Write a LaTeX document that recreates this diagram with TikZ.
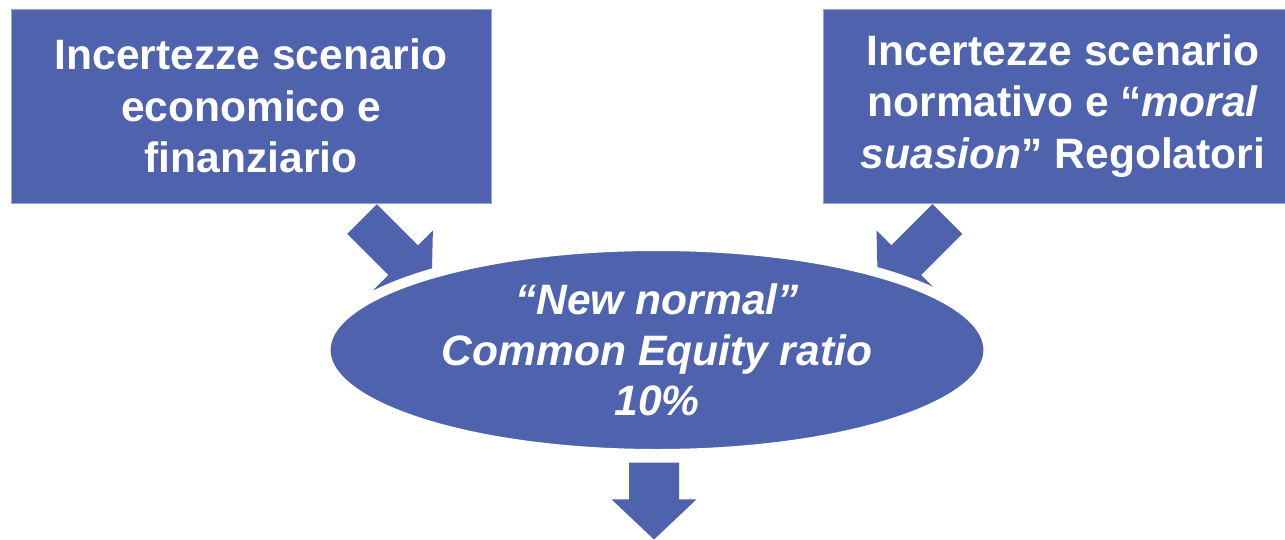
\documentclass[tikz,border=0pt]{standalone}
\usepackage{fontspec}
\setmainfont{Liberation Sans}
\usetikzlibrary{shapes.geometric}
\definecolor{boxblue}{RGB}{79,98,174}
\definecolor{edgeblue}{RGB}{150,165,220}
\begin{document}
\begin{tikzpicture}[x=0.75pt,y=-0.75pt,
  box/.style={fill=boxblue,draw=edgeblue,line width=0.75pt,inner sep=0pt,
    minimum width=360pt,minimum height=145.5pt,text=white,
    font=\fontsize{31.9}{38.5}\selectfont\bfseries,align=center},
  oval/.style={ellipse,fill=boxblue,draw=white,line width=7.5pt,
    minimum width=497.25pt,minimum height=156pt,inner sep=0pt,text=white,
    font=\fontsize{31.9}{38}\selectfont\bfseries\itshape,align=center},
  blockarrow/.style={fill=boxblue,draw=none}]
\useasboundingbox (0,0) rectangle (1285,539);
\clip (0,0) rectangle (1285,539);
\fill[white] (0,0) rectangle (1285,539);

\node[box] (left) at (251,106) {Incertezze scenario\\economico e\\finanziario};
\node[box] (right) at (1063,106) {Incertezze scenario\\normativo e “\textit{moral}\\\textit{suasion}” Regolatori};

\path[blockarrow] (376.85,204.15) -- (418.05,245.35) -- (432.9,230.5) -- (431.5,288.5)
  -- (373.5,289.9) -- (388.35,275.05) -- (347.15,233.85) -- cycle;
\path[blockarrow] (932.55,204.15) -- (891.35,245.35) -- (876.5,230.5) -- (877.9,288.5)
  -- (935.9,289.9) -- (921.05,275.05) -- (962.25,233.85) -- cycle;

\node[oval] (ce) at (657,350) {“New normal”\\Common Equity ratio\\10\%};

\path[blockarrow] (629,462.7) -- (679,462.7) -- (679,499.3) -- (696.5,499.3)
  -- (654,539.5) -- (611.5,499.3) -- (629,499.3) -- cycle;
\end{tikzpicture}
\end{document}
